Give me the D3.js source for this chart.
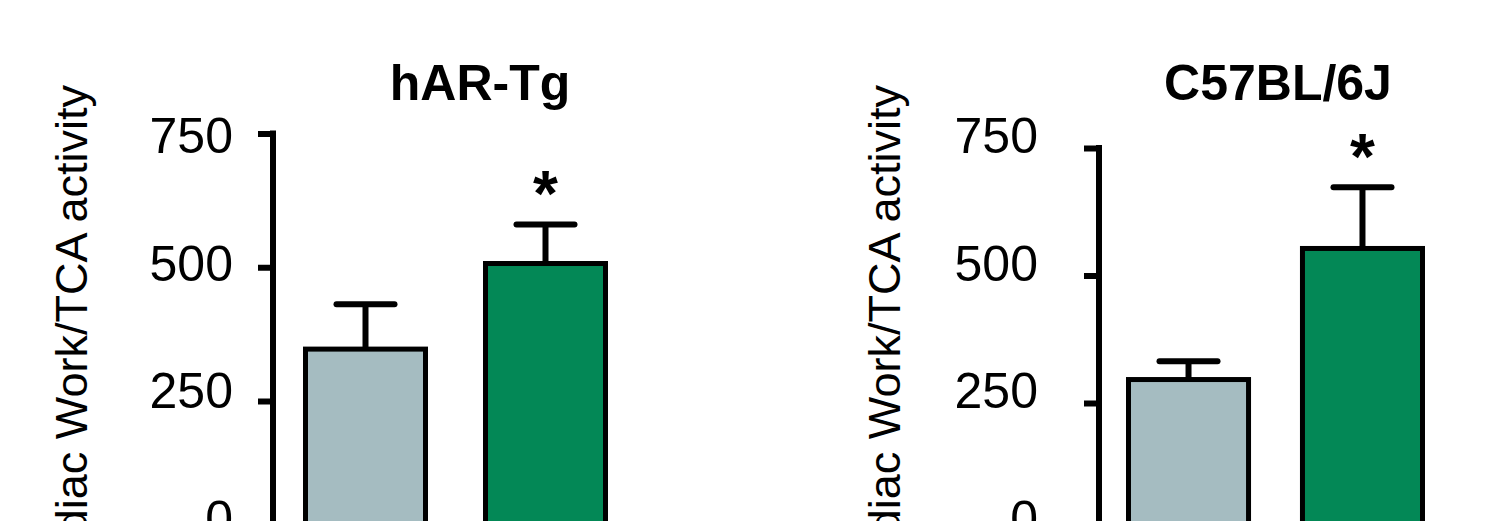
<!DOCTYPE html>
<html>
<head>
<meta charset="utf-8">
<script src="https://cdn.jsdelivr.net/npm/d3@7"></script>
<style>
  html, body { margin: 0; padding: 0; background: #fff; overflow: hidden; }
  svg { display: block; font-family: "Liberation Sans", Arial, sans-serif; }
</style>
</head>
<body>
<div id="viz"></div>
<script>
// values
const groups = ['Control', 'Treated'];
const harMeans = [347, 507];
const harErrs = [84, 73];
const c57Means = [296, 553];
const c57Errs = [36, 120];
const yTicks = [0, 250, 500, 750];
const panelTitles = ['hAR-Tg', 'C57BL/6J'];
const sigMarks = ['', '*'];
const yLabelText = 'Cardiac Work/TCA activity';
const barColors = ['#a5bcc1', '#038856'];

const W = 1498, H = 521;

const svg = d3.select('#viz').append('svg')
  .attr('width', W)
  .attr('height', H);

// bit of the slide heading that sits above the crop
svg.append('text')
  .attr('x', 336).attr('y', -9)
  .attr('fill', '#0b1f6b')
  .style('font-size', '40px')
  .style('font-weight', 'bold')
  .text('y');

const panels = [
  { title: panelTitles[0], means: harMeans, errs: harErrs,
    axisX: 273, yRange: [534.75, 133.5], xRange: [305.5, 605.5], pad: 1 / 3,
    labelX: 233, yLabelX: 87, titleX: 480 },
  { title: panelTitles[1], means: c57Means, errs: c57Errs,
    axisX: 1099, yRange: [530.5, 148], xRange: [1128.5, 1422.5], pad: 0.31,
    labelX: 1038, yLabelX: 900, titleX: 1278 }
];

panels.forEach(p => {
  const g = svg.append('g');
  const y = d3.scaleLinear().domain([0, 750]).range(p.yRange);
  // tick numbers sit a little above their ticks in the original
  const yLab = d3.scaleLinear().domain([0, 750]).range([517.5, 135]);
  const x = d3.scaleBand().domain(groups).range(p.xRange)
    .paddingInner(p.pad).paddingOuter(0);

  const axis = g.append('g')
    .attr('transform', `translate(${p.axisX},0)`)
    .call(d3.axisLeft(y).tickValues(yTicks).tickSize(15).tickSizeOuter(0).tickFormat(''));
  axis.select('.domain')
    .attr('stroke', '#000').attr('stroke-width', 6)
    .attr('d', `M0,${y(750) - 3}V${y(0) + 20}`);
  axis.selectAll('.tick line')
    .attr('stroke', '#000').attr('stroke-width', 6);

  g.selectAll('text.tl')
    .data(yTicks)
    .join('text')
    .attr('class', 'tl')
    .attr('x', p.labelX)
    .attr('y', d => yLab(d))
    .attr('dy', '0.36em')
    .attr('text-anchor', 'end')
    .style('font-size', '50px')
    .text(d => d);

  g.append('text')
    .attr('transform', `translate(${p.yLabelX},85) rotate(-90)`)
    .attr('text-anchor', 'end')
    .style('font-size', '45px')
    .text(yLabelText);

  g.append('text')
    .attr('x', p.titleX).attr('y', 100)
    .attr('text-anchor', 'middle')
    .style('font-size', '50px')
    .style('font-weight', 'bold')
    .text(p.title);

  const rows = groups.map((k, i) => ({ k, v: p.means[i], e: p.errs[i], i }));

  // error bars (upper only)
  g.selectAll('line.eb')
    .data(rows)
    .join('line')
    .attr('class', 'eb')
    .attr('x1', d => x(d.k) + x.bandwidth() / 2)
    .attr('x2', d => x(d.k) + x.bandwidth() / 2)
    .attr('y1', d => y(d.v))
    .attr('y2', d => y(d.v + d.e))
    .attr('stroke', '#000').attr('stroke-width', 6);
  g.selectAll('line.cap')
    .data(rows)
    .join('line')
    .attr('class', 'cap')
    .attr('x1', d => x(d.k) + x.bandwidth() / 2 - 29)
    .attr('x2', d => x(d.k) + x.bandwidth() / 2 + 29)
    .attr('y1', d => y(d.v + d.e))
    .attr('y2', d => y(d.v + d.e))
    .attr('stroke', '#000').attr('stroke-width', 6)
    .attr('stroke-linecap', 'round');

  g.selectAll('rect.bar')
    .data(rows)
    .join('rect')
    .attr('class', 'bar')
    .attr('x', d => x(d.k))
    .attr('y', d => y(d.v))
    .attr('width', x.bandwidth())
    .attr('height', d => y(0) - y(d.v))
    .attr('fill', d => barColors[d.i])
    .attr('stroke', '#000').attr('stroke-width', 5);

  g.selectAll('text.sig')
    .data(rows.filter(d => sigMarks[d.i]))
    .join('text')
    .attr('class', 'sig')
    .attr('x', d => x(d.k) + x.bandwidth() / 2)
    .attr('y', d => y(d.v + d.e) - 8)
    .attr('text-anchor', 'middle')
    .style('font-size', '64px')
    .style('font-weight', 'bold')
    .text(d => sigMarks[d.i]);
});
</script>
</body>
</html>
